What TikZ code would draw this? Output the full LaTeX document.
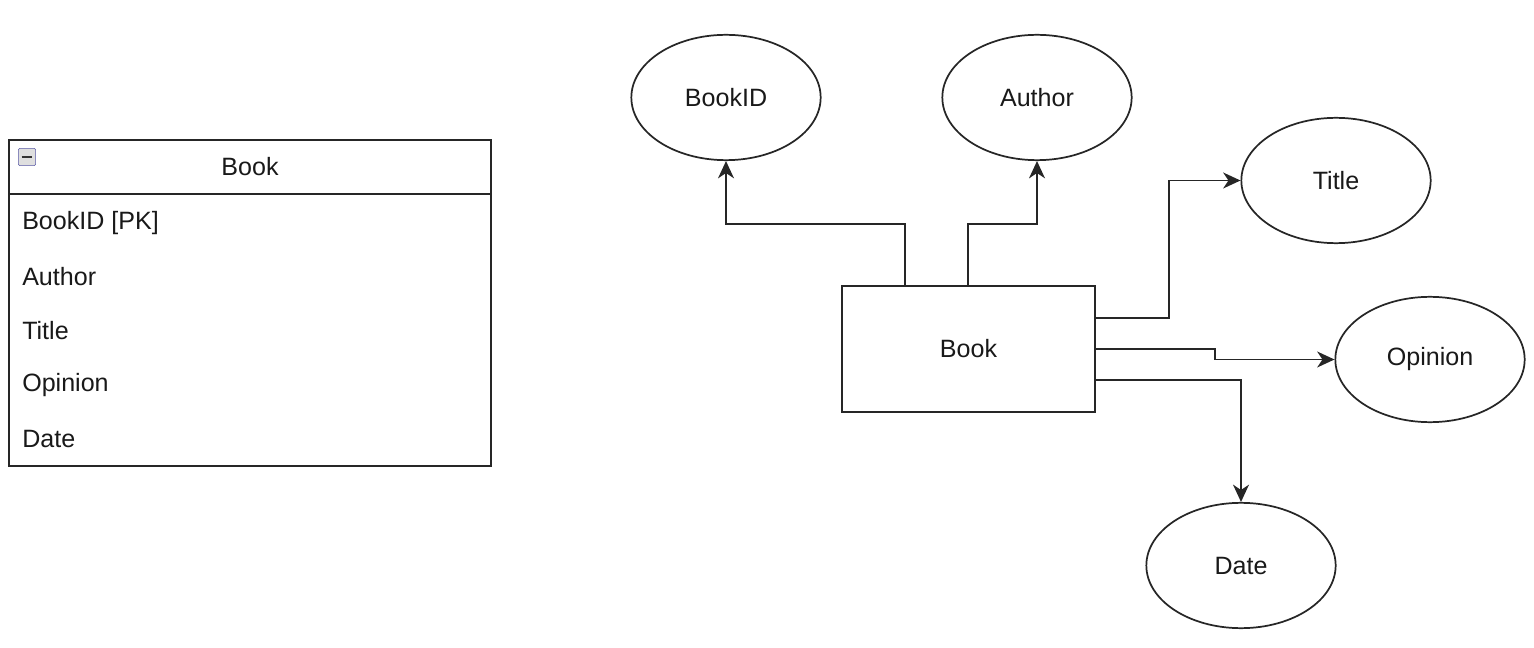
\documentclass[tikz,border=0pt]{standalone}
\usepackage{fontspec}
\setmainfont{Liberation Sans}
\usetikzlibrary{shapes.geometric,arrows.meta}
\begin{document}
\begin{tikzpicture}[x=0.75pt,y=-0.75pt,
  every node/.style={font=\fontsize{18.8}{22}\selectfont, text=black!90},
  line/.style={draw=black!85, line width=1.3pt},
  arr/.style={line, -{Stealth[length=13pt,width=12pt,inset=4pt]}},
  attr/.style={line, ellipse, inner sep=0pt, minimum width=142pt, minimum height=94pt},
  entity/.style={line, rectangle, inner sep=0pt, minimum width=190pt, minimum height=94.5pt},
  rowtext/.style={anchor=west, inner sep=0pt}]
\useasboundingbox (0,0) rectangle (1534,648);

% entity table
\draw[line] (9,140) rectangle (491,466);
\draw[line] (9,194) -- (491,194);
\node[draw=gray!70!blue, fill=gray!25, rounded corners=1pt, inner sep=0pt,
      minimum width=13pt, minimum height=13pt] (toggle) at (27,157) {};
\draw[black!80, line width=1.6pt] ([xshift=-4pt]toggle.center) -- ([xshift=4pt]toggle.center);
\node (thead) at (250,167) {Book};
\node[rowtext] (r1) at (22,223) {BookID [PK]};
\node[rowtext] (r2) at (22,277) {Author};
\node[rowtext] (r3) at (22,331) {Title};
\node[rowtext] (r4) at (22,385) {Opinion};
\node[rowtext] (r5) at (22,439) {Date};

% entity and its attributes
\node[entity] (book) at (968.5,349) {Book};
\node[attr] (bookid) at (726,97.5) {BookID};
\node[attr] (author) at (1037,97.5) {Author};
\node[attr] (title) at (1336,180.5) {Title};
\node[attr] (opinion) at (1430,359.5) {Opinion};
\node[attr] (date) at (1241,565.5) {Date};

% connectors
\draw[arr] (book.north -| 905,0) |- (bookid.south |- 0,224) -- (bookid.south);
\draw[arr] (book.north -| 968,0) |- (author.south |- 0,224) -- (author.south);
\draw[arr] (book.east |- 0,318) -| (1169,200) |- (title.west);
\draw[arr] (book.east |- 0,349) -- (1215,349) |- (opinion.west);
\draw[arr] (book.east |- 0,380) -| (date.north);
\end{tikzpicture}
\end{document}
